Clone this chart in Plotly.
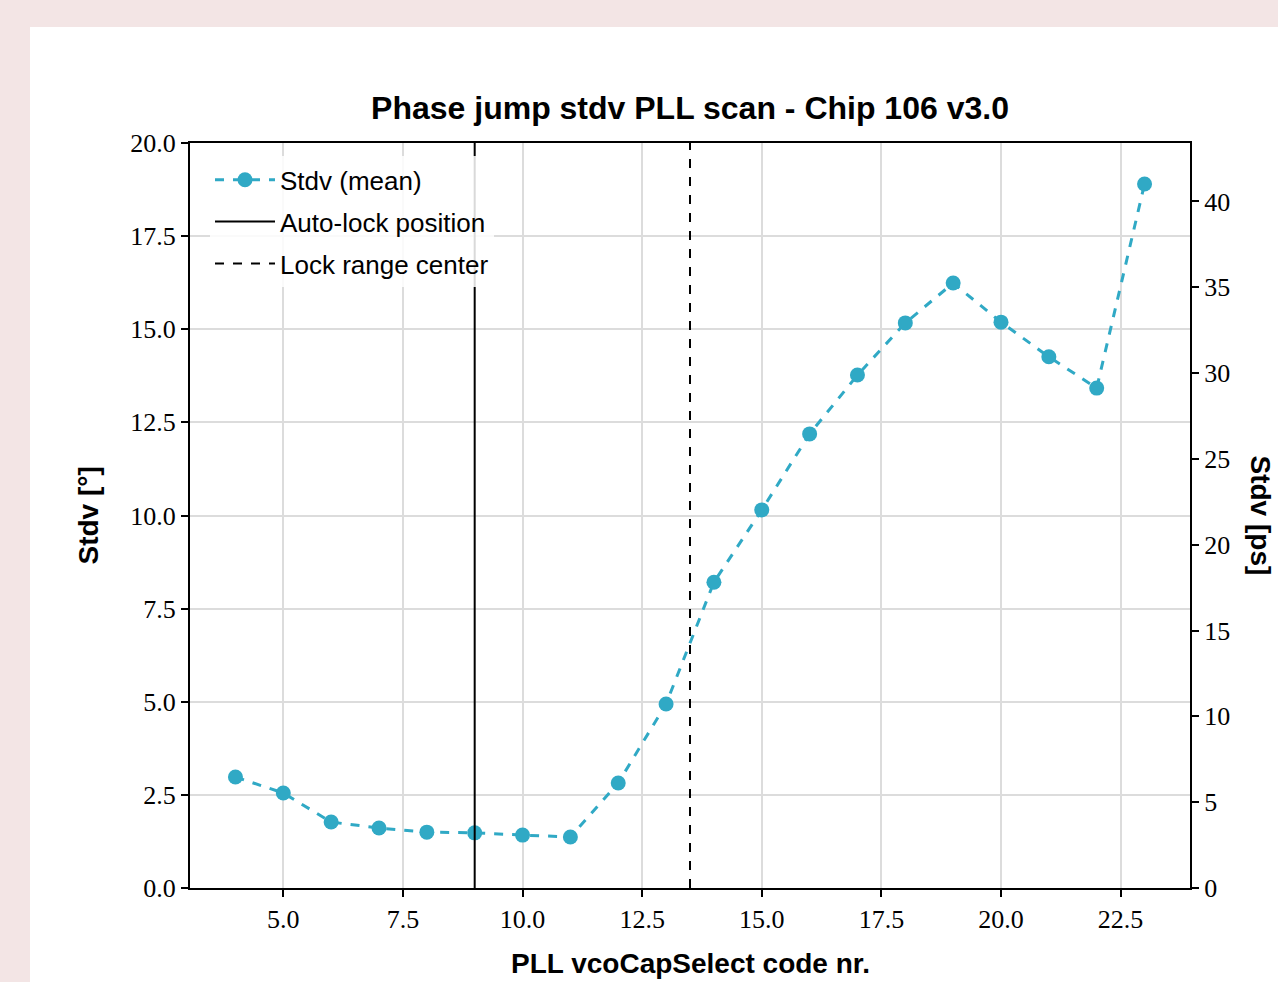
import plotly.graph_objects as go

# ---- data ----
codes = [4, 5, 6, 7, 8, 9, 10, 11, 12, 13, 14, 15, 16, 17, 18, 19, 20, 21, 22, 23]
stdv_deg = [2.98, 2.55, 1.77, 1.61, 1.50, 1.48, 1.42, 1.37, 2.82, 4.94,
            8.21, 10.15, 12.19, 13.77, 15.17, 16.24, 15.19, 14.26, 13.42, 18.90]
autolock_code = 9
lock_center_code = 13.5
ref_freq_ghz = 1.28  # deg -> ps conversion
y_deg_range = [0, 20]
x_range = [3.05, 23.95]

period_ps = 1000.0 / ref_freq_ghz
deg_to_ps = period_ps / 360.0

TEAL = "#30a9c5"
SERIF = "Liberation Serif, DejaVu Serif, serif"
SANS = "Liberation Sans, Arial, sans-serif"

fig = go.Figure()

fig.add_trace(go.Scatter(
    x=codes, y=stdv_deg, mode="lines+markers", name="Stdv (mean)",
    legendgroup="a",
    line=dict(color=TEAL, width=3, dash="dash"),
    marker=dict(color=TEAL, size=15),
))
fig.add_trace(go.Scatter(
    x=[autolock_code, autolock_code], y=y_deg_range, mode="lines",
    name="Auto-lock position", legendgroup="b",
    line=dict(color="black", width=2),
))
fig.add_trace(go.Scatter(
    x=[lock_center_code, lock_center_code], y=y_deg_range, mode="lines",
    name="Lock range center", legendgroup="c",
    line=dict(color="black", width=2, dash="dash"),
))
# invisible trace to activate right axis
fig.add_trace(go.Scatter(
    x=[codes[0]], y=[0], yaxis="y2", mode="markers",
    marker=dict(opacity=0), showlegend=False, hoverinfo="skip",
))

fig.update_layout(
    width=1278, height=982,
    margin=dict(l=190, r=88, t=143, b=94),
    paper_bgcolor="#f3e5e5",
    plot_bgcolor="white",
    showlegend=True,
    title=dict(text="<b>Phase jump stdv PLL scan - Chip 106 v3.0</b>",
               font=dict(family=SANS, size=32, color="black"),
               x=0.5, xref="paper", xanchor="center",
               y=1 - 108 / 982, yref="container", yanchor="middle"),
    xaxis=dict(range=x_range, tick0=0, dtick=2.5, tickformat=".1f",
               showgrid=True, gridcolor="#dcdcdc", gridwidth=1.5,
               showline=True, linecolor="black", linewidth=2, mirror=True,
               ticks="outside", ticklen=7, tickwidth=1.5, tickcolor="black",
               tickfont=dict(family=SERIF, size=26, color="black"),
               zeroline=False),
    yaxis=dict(range=y_deg_range, tick0=0, dtick=2.5, tickformat=".1f",
               showgrid=True, gridcolor="#dcdcdc", gridwidth=1.5,
               showline=True, linecolor="black", linewidth=2,
               ticks="outside", ticklen=7, tickwidth=1.5, tickcolor="black",
               tickfont=dict(family=SERIF, size=26, color="black"),
               zeroline=False),
    yaxis2=dict(range=[y_deg_range[0] * deg_to_ps, y_deg_range[1] * deg_to_ps],
                overlaying="y", side="right", tick0=0, dtick=5,
                showgrid=False, zeroline=False,
                showline=True, linecolor="black", linewidth=2,
                ticks="outside", ticklen=7, tickwidth=1.5, tickcolor="black",
                tickfont=dict(family=SERIF, size=26, color="black")),
    legend=dict(x=0.02, y=0.982, xanchor="left", yanchor="top",
                bgcolor="rgba(255,255,255,0.85)", borderwidth=0,
                font=dict(family=SANS, size=26, color="black"),
                itemwidth=60, tracegroupgap=5),
    shapes=[dict(type="rect", xref="paper", yref="paper",
                 x0=(30 - 190) / 1000, x1=1.2, y0=-0.2, y1=(888 - 27) / 745,
                 fillcolor="white", line=dict(width=0), layer="below")],
    annotations=[
        dict(text="<b>Stdv [°]</b>", xref="paper", yref="paper",
             x=(88 - 190) / 1000, y=0.5, textangle=-90, showarrow=False,
             xanchor="center", yanchor="middle",
             font=dict(family=SANS, size=28, color="black")),
        dict(text="<b>Stdv [ps]</b>", xref="paper", yref="paper",
             x=(1260 - 190) / 1000, y=0.5, textangle=90, showarrow=False,
             xanchor="center", yanchor="middle",
             font=dict(family=SANS, size=28, color="black")),
        dict(text="<b>PLL vcoCapSelect code nr.</b>", xref="paper", yref="paper",
             x=0.5, y=(888 - 963) / 745, showarrow=False,
             xanchor="center", yanchor="middle",
             font=dict(family=SANS, size=28, color="black")),
    ],
)

fig.write_html("out.html")
